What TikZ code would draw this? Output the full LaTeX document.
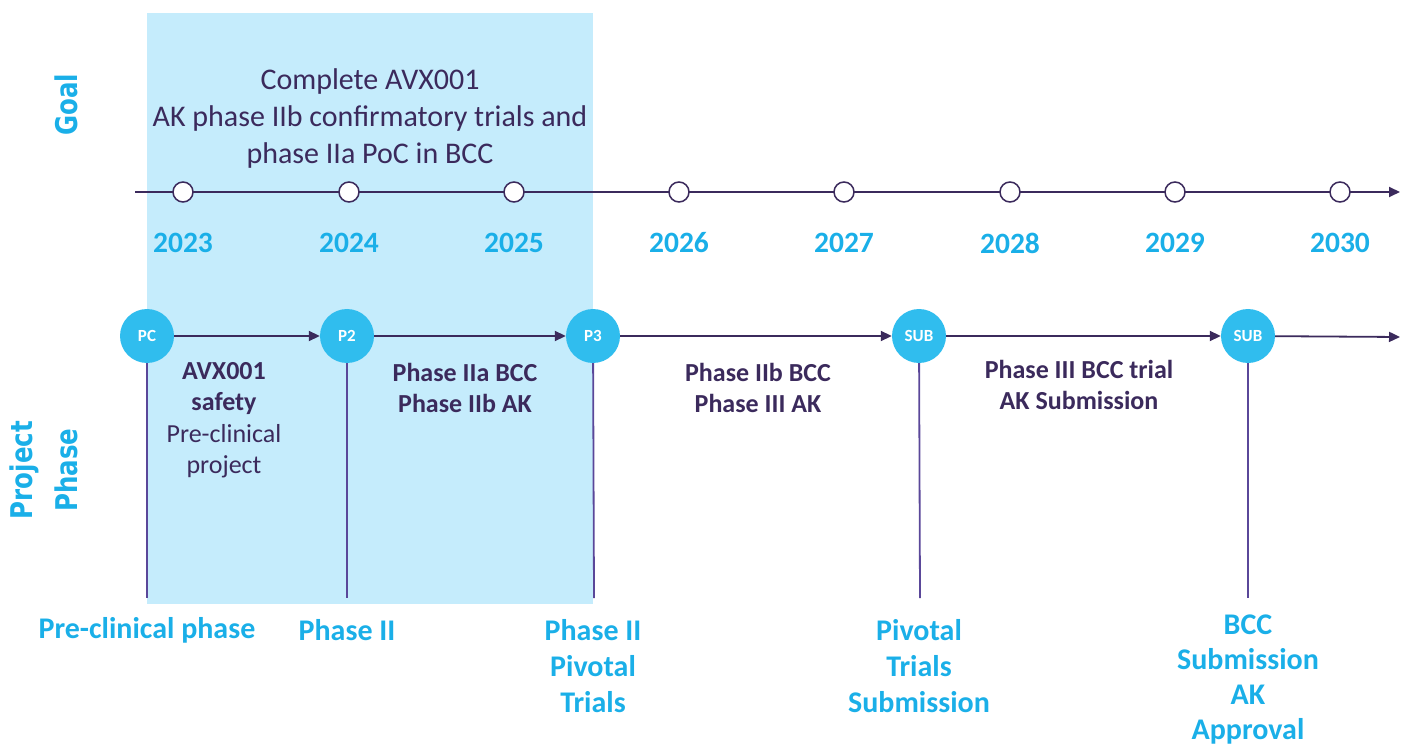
\documentclass[tikz,border=0pt]{standalone}
\usepackage{fontspec}
\setmainfont{Carlito}
\newfontfamily\vfont{DejaVu Sans}
\usetikzlibrary{arrows.meta}
\definecolor{ink}{HTML}{3B2A5C}
\definecolor{cyanlbl}{HTML}{1AAFE8}
\definecolor{circ}{HTML}{30BDEE}
\definecolor{band}{HTML}{C5ECFC}
\definecolor{vline}{HTML}{5A4799}
\begin{document}
\begin{tikzpicture}[x=1pt,y=-1pt,
  yr/.style={font=\fontsize{29.5}{34}\selectfont\bfseries, text=cyanlbl},
  tickc/.style={circle, draw=ink, fill=white, line width=1.5pt, minimum size=20pt, inner sep=0pt},
  ph/.style={circle, fill=circ, minimum size=54pt, inner sep=0pt, text=white, font=\fontsize{17}{19}\selectfont\bfseries},
  conn/.style={draw=ink, line width=1.8pt, -{Triangle[length=11pt,width=10pt]}},
  vl/.style={draw=vline, line width=1.8pt},
  lbl/.style={text=cyanlbl, font=\fontsize{30}{36}\selectfont\bfseries, align=center},
  body/.style={text=ink, font=\fontsize{26}{31.5}\selectfont, align=center},
  bodyb/.style={body, font=\fontsize{26}{31.5}\selectfont\bfseries},
  side/.style={text=cyanlbl, font=\vfont\fontsize{24.5}{37}\selectfont\bfseries, align=center, rotate=90, yscale=1.22}
]
\useasboundingbox (0,0) rectangle (1408,751);
\fill[band] (147,13) rectangle (593,604);

% side labels
\node[side] (goal) at (66,105) {Goal};
\node[side] (proj) at (44,470) {Project\\Phase};

% goal text
\node[text=ink, font=\fontsize{30}{37}\selectfont, align=center] (goaltxt) at (370,119)
  {Complete AVX001\\AK phase IIb confirmatory trials and\\phase IIa PoC in BCC};

% year timeline
\coordinate (tl0) at (135,192);
\coordinate (tl1) at (1400,192);
\draw[conn] (tl0) -- (tl1);
\foreach \x/\y [count=\i] in {183/2023,349/2024,514/2025,679/2026,844/2027,1010/2028,1175/2029,1340/2030}{
  \node[tickc] (t\i) at (\x,192) {};
  \node[yr] (y\i) at (\x,243) {\y};
}

% phase nodes
\node[ph] (pc) at (147,336) {PC};
\node[ph] (p2) at (347,336) {P2};
\node[ph] (p3) at (593,336) {P3};
\node[ph] (s1) at (919,336) {SUB};
\node[ph] (s2) at (1248,336) {SUB};
\coordinate (pend) at (1400,337);

\draw[conn] (pc) -- (p2);
\draw[conn] (p2) -- (p3);
\draw[conn] (p3) -- (s1);
\draw[conn] (s1) -- (s2);
\draw[conn] (s2) -- (pend);

% vertical drops
\coordinate (pcb) at (147,598);
\coordinate (p2b) at (347,598);
\coordinate (p3b) at (594,598);
\coordinate (s1b) at (920,598);
\coordinate (s2b) at (1248,598);
\draw[vl] (pc) -- (pcb);
\draw[vl] (p2) -- (p2b);
\draw[vl] (p3) -- (p3b);
\draw[vl] (s1) -- (s1b);
\draw[vl] (s2) -- (s2b);

% phase descriptions
\node[body] (d1) at (224,420) {\textbf{AVX001}\\\textbf{safety}\\Pre-clinical\\project};
\node[bodyb] (d2) at (465,388) {Phase IIa BCC\\Phase IIb AK};
\node[bodyb] (d3) at (758,388) {Phase IIb BCC\\Phase III AK};
\node[bodyb] (d4) at (1079,385) {Phase III BCC trial\\AK Submission};

% bottom labels
\node[lbl] (b1) at (147,630) {Pre-clinical phase};
\node[lbl] (b2) at (347,630) {Phase II};
\node[lbl] (b3) at (593,666) {Phase II\\Pivotal\\Trials};
\node[lbl] (b4) at (919,666) {Pivotal\\Trials\\Submission};
\node[lbl, font=\fontsize{30}{35}\selectfont\bfseries] (b5) at (1248,680) {BCC\\Submission\\AK\\Approval};
\end{tikzpicture}
\end{document}
